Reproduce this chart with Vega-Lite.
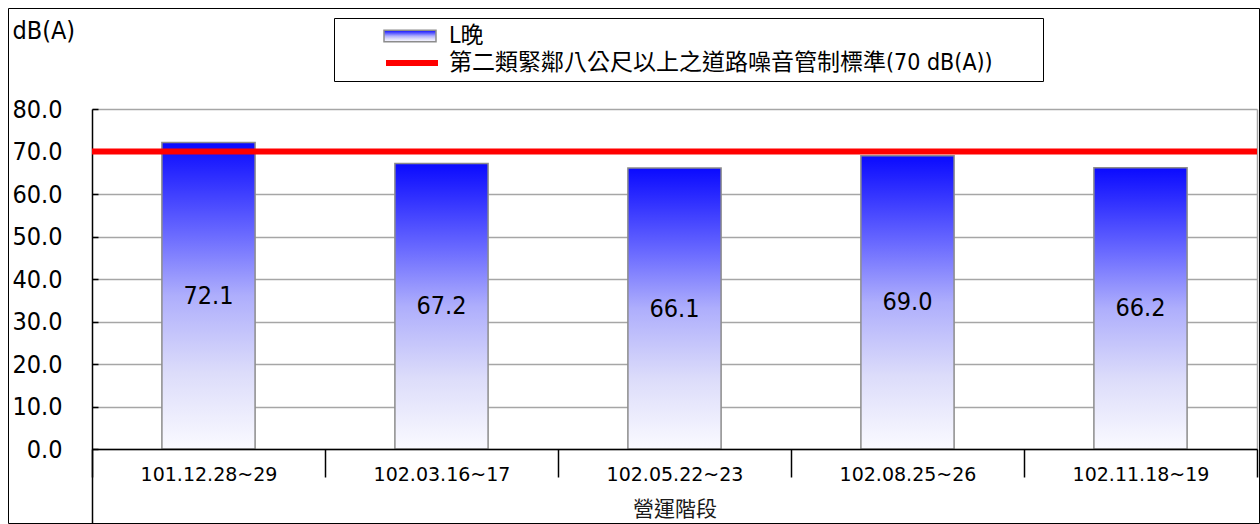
{
  "$schema": "https://vega.github.io/schema/vega-lite/v6.json",
  "width": 1251,
  "height": 515,
  "autosize": {"type": "none"},
  "padding": {"left": 8, "top": 8, "right": 1, "bottom": 1},
  "background": "#ffffff",
  "config": {"view": {"stroke": "#000000", "strokeWidth": 1}},
  "data": {"values": [
    {"period": "101.12.28~29", "series": "L晚", "value": 72.1},
    {"period": "102.03.16~17", "series": "L晚", "value": 67.2},
    {"period": "102.05.22~23", "series": "L晚", "value": 66.1},
    {"period": "102.08.25~26", "series": "L晚", "value": 69.0},
    {"period": "102.11.18~19", "series": "L晚", "value": 66.2},
    {"series": "第二類緊鄰八公尺以上之道路噪音管制標準(70 dB(A))", "value": 70}
  ]},
  "layer": [
    {
      "transform": [{"filter": "datum.series === 'L晚'"}],
      "mark": {"type": "bar", "width": {"band": 0.4},
        "fill": {"gradient": "linear", "x1": 0, "y1": 0, "x2": 0, "y2": 1, "stops": [
          {"offset": 0, "color": "#0a0aff"}, {"offset": 0.12, "color": "#3030ff"}, {"offset": 0.3, "color": "#6a6aff"},
          {"offset": 0.5, "color": "#aeaefc"}, {"offset": 0.75, "color": "#dcdcfa"}, {"offset": 1, "color": "#fafaff"}]},
        "strokeWidth": 1.5},
      "encoding": {
        "x": {"field": "period", "type": "nominal", "sort": null,
          "scale": {"type": "band", "range": [84, 1249], "paddingInner": 0, "paddingOuter": 0},
          "axis": {"orient": "bottom", "offset": -74, "title": "營運階段", "titleFont": "Noto Sans CJK TC", "titleFontSize": 21,
            "titleFontWeight": "normal", "titleColor": "#1a1a1a", "titleY": 60, "titleBaseline": "middle",
            "labelFont": "DejaVu Sans", "labelFontSize": 19, "labelColor": "#000000", "labelAngle": 0, "labelBaseline": "middle",
            "labelPadding": -3, "tickSize": 28, "tickBand": "extent", "tickColor": "#000000", "tickWidth": 1.5,
            "domainColor": "#000000", "domainWidth": 1.5, "grid": false, "zindex": 1, "labelLimit": 300}},
        "y": {"field": "value", "type": "quantitative",
          "scale": {"domain": [0, 80], "range": [441, 101], "nice": false, "zero": true},
          "axis": {"orient": "left", "offset": -84, "values": [0, 10, 20, 30, 40, 50, 60, 70, 80], "format": ".1f",
            "labelFont": "DejaVu Sans Condensed", "labelFontSize": 25, "labelColor": "#000000", "labelAlign": "right",
            "labelBaseline": "middle", "labelPadding": 36, "ticks": true, "tickSize": -6, "tickColor": "#000000", "tickWidth": 1.5,
            "domain": false,
            "grid": true, "gridColor": "#a6a6a6", "gridWidth": 1.5, "labelFlush": false, "labelOverlap": false,
            "title": "dB(A)", "titleAngle": 0, "titleX": -80, "titleY": 22, "titleAlign": "left", "titleBaseline": "middle",
            "titleFont": "DejaVu Sans Condensed", "titleFontSize": 25, "titleFontWeight": "normal", "titleColor": "#000000"}},
        "stroke": {"field": "series", "type": "nominal",
          "scale": {"domain": ["L晚"], "range": ["#8c8c8c"]},
          "legend": {"orient": "none", "legendX": 375, "legendY": 16, "title": null, "padding": 0,
            "labelExpr": "''", "labelFontSize": 1, "labelLimit": 900, "labelOffset": 0,
            "symbolSize": 2704, "symbolOffset": 0, "clipHeight": 24,
            "symbolType": "M-1,-0.22H1V0.22H-1Z", "symbolStrokeWidth": 1.5}}
      }
    },
    {
      "transform": [{"filter": "datum.series === 'L晚'"}],
      "mark": {"type": "text", "font": "DejaVu Sans Condensed", "fontSize": 25, "color": "#000000", "align": "center", "baseline": "middle"},
      "encoding": {
        "x": {"field": "period", "type": "nominal", "sort": null,
          "scale": {"type": "band", "range": [84, 1249], "paddingInner": 0, "paddingOuter": 0}},
        "y": {"field": "value", "type": "quantitative",
          "scale": {"domain": [-34.82, 160], "range": [515, 101], "nice": false, "zero": false},
          "axis": {"orient": "left", "offset": -84, "labels": false, "ticks": false, "grid": false, "title": null,
            "domain": true, "domainColor": "#000000", "domainWidth": 1.5}},
        "text": {"field": "value", "type": "quantitative", "format": ".1f"}
      }
    },
    {
      "transform": [{"filter": "datum.series !== 'L晚'"}],
      "mark": {"type": "rule", "strokeWidth": 6},
      "encoding": {
        "x": {"datum": "101.12.28~29", "type": "nominal", "bandPosition": 0},
        "x2": {"datum": "102.11.18~19", "bandPosition": 1},
        "y": {"field": "value", "type": "quantitative",
          "scale": {"domain": [0, 80], "range": [441, 101], "nice": false},
          "axis": {"orient": "right", "offset": -2, "labels": false, "ticks": false, "grid": false, "title": null,
            "domain": true, "domainColor": "#a6a6a6", "domainWidth": 1.5}},
        "color": {"field": "series", "type": "nominal",
          "scale": {"domain": ["L晚", "第二類緊鄰八公尺以上之道路噪音管制標準(70 dB(A))"], "range": ["transparent", "#ff0000"]},
          "legend": {"orient": "none", "legendX": 326, "legendY": 10, "title": " ", "titleOrient": "right",
            "titleFontSize": 20, "titlePadding": 44,
            "labelFont": "DejaVu Sans Condensed, Noto Sans CJK TC", "labelFontSize": 23, "labelColor": "#000000",
            "labelLimit": 900, "labelOffset": 8, "symbolSize": 2704, "symbolOffset": 43, "clipHeight": 24,
            "rowPadding": 3, "symbolType": "stroke", "symbolStrokeWidth": 6, "padding": 6, "strokeColor": "#000000"}}
      }
    }
  ],
  "resolve": {"scale": {"y": "independent"}}
}
